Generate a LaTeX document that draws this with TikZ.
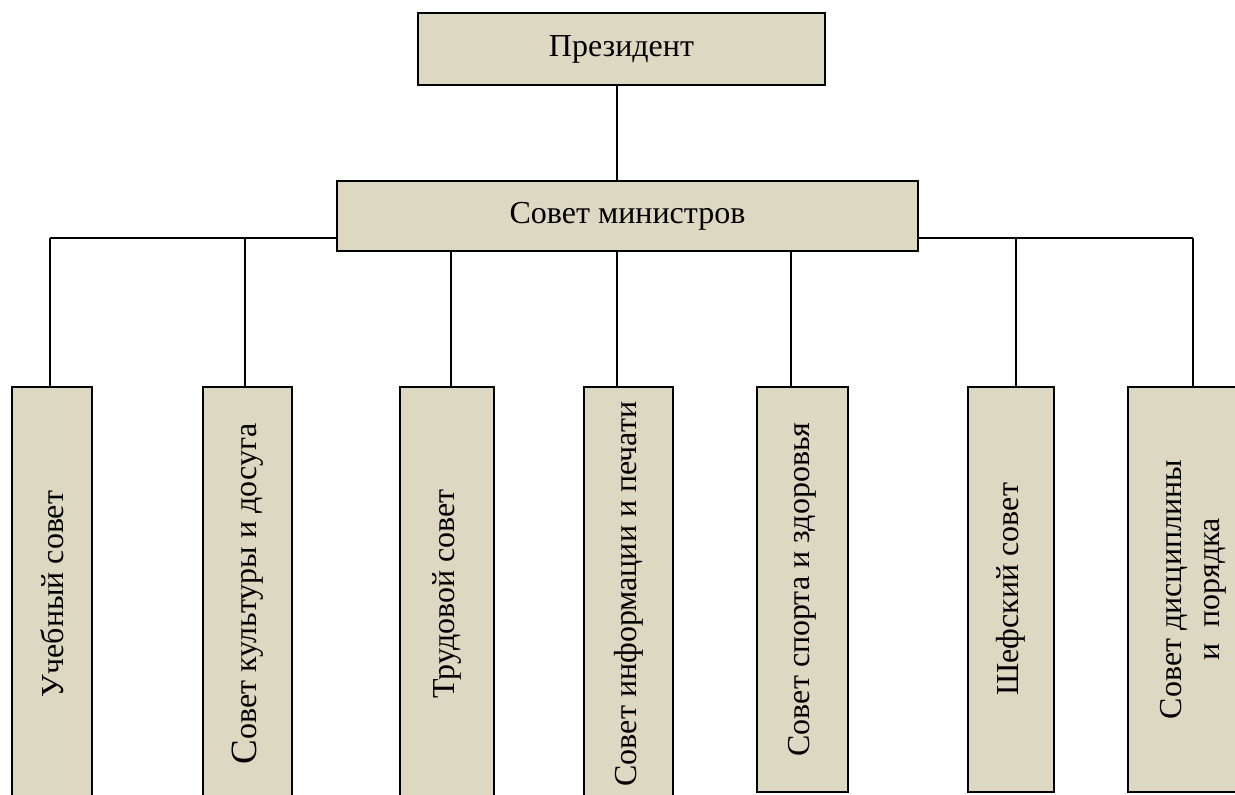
\documentclass[tikz,border=0pt]{standalone}
\usepackage{fontspec}
\setmainfont{Liberation Serif}
\usetikzlibrary{backgrounds}
\definecolor{boxtan}{HTML}{DDD8C2}
\tikzset{
	orgbox/.style={draw, line width=1pt, fill=boxtan, inner sep=0pt, align=center},
	vbox/.style={orgbox, rotate=90},
	link/.style={line width=0.75pt}
}
\begin{document}
\begin{tikzpicture}[x=0.5pt, y=-0.5pt, font=\fontsize{16}{19}\selectfont]
		\useasboundingbox (0,0) rectangle (1235,795);
		\clip (0,0) rectangle (1235,795);
		
		% verkh
		\node[orgbox, minimum width=203.5pt, minimum height=36pt] (pres) at (621.5,49) {Президент};
		\node[orgbox, minimum width=290.5pt, minimum height=35pt] (sovmin) at (627.5,216) {Совет министров};
		
		% sovety
		\node[vbox, minimum width=207pt, minimum height=40pt] (uch) at (52,594) {Учебный совет};
		\node[vbox, minimum width=207pt, minimum height=44.5pt] (kult) at (247.5,594) {{\fontsize{18.5}{19}\selectfont С}овет культуры и досуга};
		\node[vbox, minimum width=207pt, minimum height=47pt] (trud) at (447,594) {Трудовой совет};
		\node[vbox, minimum width=207pt, minimum height=44.5pt] (info) at (628.5,594) {Совет информации и печати};
		\node[vbox, minimum width=202.5pt, minimum height=45.5pt] (sport) at (802.5,589.5) {Совет спорта и здоровья};
		\node[vbox, minimum width=202.5pt, minimum height=43pt] (shef) at (1011,589.5) {Шефский совет};
		\node[vbox, minimum width=202.5pt, minimum height=65pt] (disc) at (1193,589.5) {Совет дисциплины\\ и\ \ порядка};
		
		% linii
		\begin{scope}[on background layer]
		\coordinate (top) at (617,0);
		\draw[link] (pres.south -| top) -- (sovmin.north -| top);
		\coordinate (busL) at (50,238);
		\coordinate (busR) at (1193,238);
		\draw[link] (busL) -- (sovmin.west |- busL);
		\draw[link] (sovmin.east |- busR) -- (busR);
		\foreach \n/\x in {uch/50, kult/245, trud/451, info/617, sport/791, shef/1016, disc/1193} {
			\coordinate (tap) at (\x,238);
			\draw[link] (tap) -- (\n.east -| tap);
		}
		\end{scope}
	\end{tikzpicture}
\end{document}
